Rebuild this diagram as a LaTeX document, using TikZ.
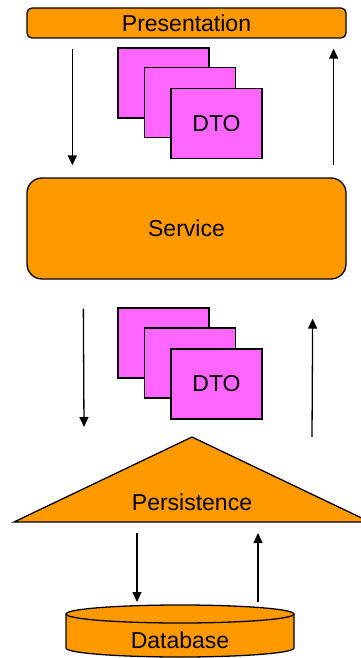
\documentclass[tikz,border=0pt]{standalone}
\usepackage{fontspec}
\setmainfont{Liberation Sans}
\usetikzlibrary{arrows.meta}
\definecolor{layercol}{RGB}{255,153,0}
\definecolor{dtocol}{RGB}{255,102,255}

\begin{document}
\begin{tikzpicture}[x=1pt, y=-1pt, every node/.style={font=\fontsize{23}{27}\selectfont},
  layer/.style={draw, line width=1.3pt, fill=layercol, inner sep=0pt},
  dtocard/.style={draw, line width=1.3pt, fill=dtocol, minimum width=91pt, minimum height=70pt, inner sep=0pt},
  flow/.style={line width=1.3pt, -{Triangle[width=9pt,length=10pt]}}]
  % page 361x658
  \clip (0,0) rectangle (361,658);
  % presentation and service layers
  \node[layer, rounded corners=5pt, minimum width=319pt, minimum height=30pt] (pres) at (186.5,23) {Presentation};
  \node[layer, rounded corners=15pt, minimum width=319pt, minimum height=101pt] (serv) at (186.5,228.5) {Service};
  % DTO stack between presentation and service
  \node[dtocard] (dtoa1) at (163.5,83) {};
  \node[dtocard] (dtoa2) at (190,102.5) {};
  \node[dtocard] (dtoa3) at (216.5,123.5) {DTO};
  % DTO stack between service and persistence
  \node[dtocard] (dtob1) at (163.5,343) {};
  \node[dtocard] (dtob2) at (190,363) {};
  \node[dtocard] (dtob3) at (216.5,384) {DTO};
  % persistence triangle
  \draw[line width=1.3pt, fill=layercol] (192,437) -- (370,522) -- (14,522) -- cycle;
  \coordinate (perstop) at (192,437);
  \coordinate (persbase) at (192,522);
  \node (pers) at (192,502) {Persistence};
  % database cylinder
  \draw[line width=1.3pt, fill=layercol] (66,614) -- (66,648)
    arc[start angle=180, end angle=360, x radius=114pt, y radius=9pt] -- (294,614);
  \draw[line width=1.3pt, fill=layercol] (180,614) ellipse [x radius=114pt, y radius=9pt];
  \coordinate (dbtop) at (180,605);
  \node (db) at (180,640) {Database};
  % calls down, results up
  \draw[flow] ([xshift=46pt,yshift=-10pt]pres.south west) -- ([xshift=46pt,yshift=12pt]serv.north west);
  \draw[flow] ([xshift=-13pt,yshift=12pt]serv.north east) -- ([xshift=-13pt,yshift=-10pt]pres.south east);
  \draw[flow] ([xshift=57pt,yshift=-29pt]serv.south west) -- ([shift={(-108pt,10pt)}]perstop);
  \draw[flow] ([xshift=120pt]perstop) -- ([xshift=-34pt,yshift=-39pt]serv.south east);
  \draw[flow] ([shift={(-55pt,-11pt)}]persbase) -- ([shift={(-43pt,3pt)}]dbtop);
  \draw[flow] ([shift={(78pt,3pt)}]dbtop) -- ([shift={(66pt,-11pt)}]persbase);
\end{tikzpicture}
\end{document}
